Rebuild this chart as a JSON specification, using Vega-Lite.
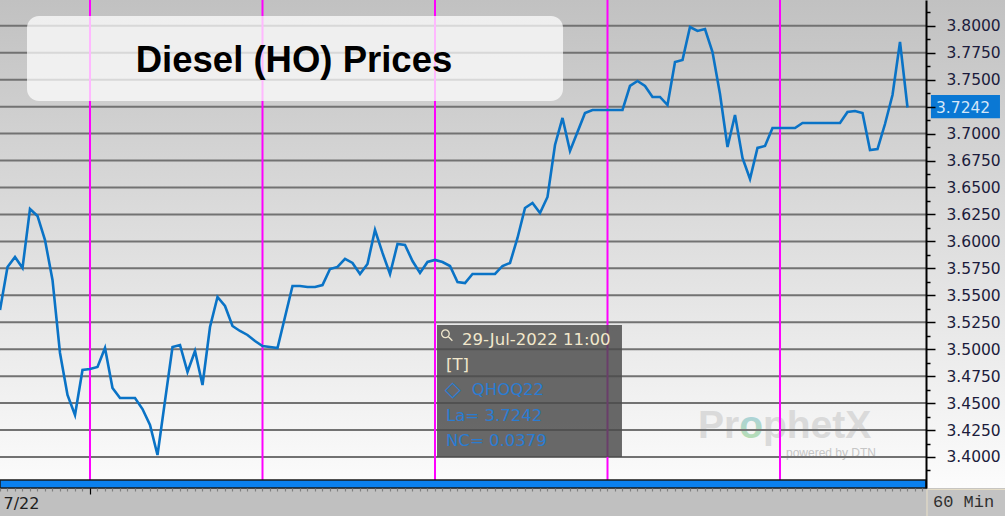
{
  "$schema": "https://vega.github.io/schema/vega-lite/v6.json",
  "width": 926,
  "height": 488,
  "autosize": {"type": "none"},
  "padding": {"left": 0, "top": 0, "right": 79, "bottom": 28},
  "background": "#c0c0c0",
  "config": {"view": {"stroke": null}},
  "layer": [
    {
      "data": {"values": [{}]},
      "mark": {"type": "rect", "clip": false, "fill": {"gradient": "linear", "x1": 0, "y1": 0, "x2": 0, "y2": 1, "stops": [{"offset": 0, "color": "#c1c1c1"}, {"offset": 1, "color": "#fcfcfc"}]}},
      "encoding": {
        "x": {"datum": 0, "type": "quantitative"},
        "x2": {"datum": 134},
        "y": {"datum": 3.371243, "type": "quantitative"},
        "y2": {"datum": 3.823933}
      }
    },
    {
      "data": {"values": [{"t": "Pr", "p": 93.07}, {"t": "phetX", "p": 101.73}]},
      "mark": {"type": "text", "font": "Liberation Sans", "fontWeight": "bold", "fontSize": 39, "fill": "#dadada", "align": "left", "baseline": "alphabetic"},
      "encoding": {
        "x": {"field": "p", "type": "quantitative"},
        "y": {"datum": 3.41763, "type": "quantitative"},
        "text": {"field": "t"}
      }
    },
    {
      "data": {"values": [{"t": "o"}]},
      "mark": {"type": "text", "font": "Liberation Sans", "fontWeight": "bold", "fontSize": 39, "align": "left", "baseline": "alphabetic", "fill": {"gradient": "linear", "x1": 0, "y1": 0, "x2": 0, "y2": 1, "stops": [{"offset": 0, "color": "#a6cdee"}, {"offset": 1, "color": "#b9e0a8"}]}},
      "encoding": {
        "x": {"datum": 98.56, "type": "quantitative"},
        "y": {"datum": 3.41763, "type": "quantitative"},
        "text": {"field": "t"}
      }
    },
    {
      "data": {"values": [{"t": "powered by DTN"}]},
      "mark": {"type": "text", "font": "Liberation Sans", "fontSize": 12, "fill": "#c6c6c6", "align": "left", "baseline": "middle"},
      "encoding": {
        "x": {"datum": 104.8, "type": "quantitative"},
        "y": {"datum": 3.40364, "type": "quantitative"},
        "text": {"field": "t"}
      }
    },
    {
      "data": {"values": [{"g": 3.4}, {"g": 3.425}, {"g": 3.45}, {"g": 3.475}, {"g": 3.5}, {"g": 3.525}, {"g": 3.55}, {"g": 3.575}, {"g": 3.6}, {"g": 3.625}, {"g": 3.65}, {"g": 3.675}, {"g": 3.7}, {"g": 3.725}, {"g": 3.75}, {"g": 3.775}, {"g": 3.8}, {"g": 3.825}]},
      "mark": {"type": "rule", "color": "#727272", "strokeWidth": 2},
      "encoding": {
        "y": {"field": "g", "type": "quantitative"}
      }
    },
    {
      "data": {"values": [{"d": 12}, {"d": 35}, {"d": 58}, {"d": 81}, {"d": 104}]},
      "mark": {"type": "rule", "color": "#ff00ff", "strokeWidth": 2},
      "encoding": {
        "x": {"field": "d", "type": "quantitative"}
      }
    },
    {
      "data": {"values": [{}]},
      "mark": {"type": "rect", "fill": "#ffffff", "fillOpacity": 0.72, "cornerRadius": 12},
      "encoding": {
        "x": {"datum": 3.6, "type": "quantitative"},
        "x2": {"datum": 75.07},
        "y": {"datum": 3.73024, "type": "quantitative"},
        "y2": {"datum": 3.80909}
      }
    },
    {
      "data": {"values": [{"t": "Diesel (HO) Prices"}]},
      "mark": {"type": "text", "font": "Liberation Sans", "fontWeight": "bold", "fontSize": 36.5, "fill": "#000000", "align": "center", "baseline": "alphabetic"},
      "encoding": {
        "x": {"datum": 39.2, "type": "quantitative"},
        "y": {"datum": 3.75714, "type": "quantitative"},
        "text": {"field": "t"}
      }
    },
    {
      "data": {"values": [{}]},
      "mark": {"type": "rect", "fill": "#4a4a4a", "fillOpacity": 0.83},
      "encoding": {
        "x": {"datum": 58.27, "type": "quantitative"},
        "x2": {"datum": 82.93},
        "y": {"datum": 3.4, "type": "quantitative"},
        "y2": {"datum": 3.52245}
      }
    },
    {
      "data": {"values": [{}]},
      "mark": {"type": "point", "shape": "M -0.85 -0.2 A 0.6 0.6 0 1 1 0.35 -0.2 A 0.6 0.6 0 1 1 -0.85 -0.2 M 0.2 0.25 L 0.85 0.9", "filled": false, "stroke": "#efe6cc", "strokeWidth": 1.3, "size": 160, "opacity": 1},
      "encoding": {
        "x": {"datum": 59.6, "type": "quantitative"},
        "y": {"datum": 3.51317, "type": "quantitative"}
      }
    },
    {
      "data": {"values": [{"t": "29-Jul-2022 11:00"}]},
      "mark": {"type": "text", "font": "DejaVu Sans", "fontSize": 16.5, "fill": "#f2e8cc", "align": "left", "baseline": "middle"},
      "encoding": {
        "x": {"datum": 61.6, "type": "quantitative"},
        "y": {"datum": 3.50853, "type": "quantitative"},
        "text": {"field": "t"}
      }
    },
    {
      "data": {"values": [{"t": "[T]"}]},
      "mark": {"type": "text", "font": "DejaVu Sans", "fontSize": 16.5, "fill": "#f2e8cc", "align": "left", "baseline": "middle"},
      "encoding": {
        "x": {"datum": 59.47, "type": "quantitative"},
        "y": {"datum": 3.48534, "type": "quantitative"},
        "text": {"field": "t"}
      }
    },
    {
      "data": {"values": [{"t": "◇"}]},
      "mark": {"type": "text", "font": "DejaVu Sans", "fontSize": 21, "fontWeight": "bold", "fill": "#2a7cd2", "align": "left", "baseline": "middle"},
      "encoding": {
        "x": {"datum": 59.3, "type": "quantitative"},
        "y": {"datum": 3.46215, "type": "quantitative"},
        "text": {"field": "t"}
      }
    },
    {
      "data": {"values": [{"t": "QHOQ22"}]},
      "mark": {"type": "text", "font": "DejaVu Sans", "fontSize": 16.5, "fill": "#2a7cd2", "align": "left", "baseline": "middle"},
      "encoding": {
        "x": {"datum": 62.9, "type": "quantitative"},
        "y": {"datum": 3.46215, "type": "quantitative"},
        "text": {"field": "t"}
      }
    },
    {
      "data": {"values": [{"t": "La= 3.7242"}]},
      "mark": {"type": "text", "font": "DejaVu Sans", "fontSize": 16.5, "fill": "#2a7cd2", "align": "left", "baseline": "middle"},
      "encoding": {
        "x": {"datum": 59.47, "type": "quantitative"},
        "y": {"datum": 3.43803, "type": "quantitative"},
        "text": {"field": "t"}
      }
    },
    {
      "data": {"values": [{"t": "NC= 0.0379"}]},
      "mark": {"type": "text", "font": "DejaVu Sans", "fontSize": 16.5, "fill": "#2a7cd2", "align": "left", "baseline": "middle"},
      "encoding": {
        "x": {"datum": 59.47, "type": "quantitative"},
        "y": {"datum": 3.41484, "type": "quantitative"},
        "text": {"field": "t"}
      }
    },
    {
      "data": {"values": [
        {"i": 0, "v": 3.5364}, {"i": 1, "v": 3.5763}, {"i": 2, "v": 3.5855}, {"i": 3, "v": 3.5753}, {"i": 4, "v": 3.6301},
        {"i": 5, "v": 3.6236}, {"i": 6, "v": 3.6013}, {"i": 7, "v": 3.5642}, {"i": 8, "v": 3.4965}, {"i": 9, "v": 3.4575},
        {"i": 10, "v": 3.4390}, {"i": 11, "v": 3.4807}, {"i": 12, "v": 3.4816}, {"i": 13, "v": 3.4835}, {"i": 14, "v": 3.5011},
        {"i": 15, "v": 3.4640}, {"i": 16, "v": 3.4547}, {"i": 17, "v": 3.4547}, {"i": 18, "v": 3.4547}, {"i": 19, "v": 3.4445},
        {"i": 20, "v": 3.4297}, {"i": 21, "v": 3.4019}, {"i": 22, "v": 3.4520}, {"i": 23, "v": 3.5020}, {"i": 24, "v": 3.5039},
        {"i": 25, "v": 3.4789}, {"i": 26, "v": 3.4983}, {"i": 27, "v": 3.4668}, {"i": 28, "v": 3.5206}, {"i": 29, "v": 3.5484},
        {"i": 30, "v": 3.5401}, {"i": 31, "v": 3.5215}, {"i": 32, "v": 3.5169}, {"i": 33, "v": 3.5132}, {"i": 34, "v": 3.5076},
        {"i": 35, "v": 3.5030}, {"i": 36, "v": 3.5020}, {"i": 37, "v": 3.5011}, {"i": 38, "v": 3.5299}, {"i": 39, "v": 3.5586},
        {"i": 40, "v": 3.5586}, {"i": 41, "v": 3.5577}, {"i": 42, "v": 3.5577}, {"i": 43, "v": 3.5595}, {"i": 44, "v": 3.5744},
        {"i": 45, "v": 3.5763}, {"i": 46, "v": 3.5837}, {"i": 47, "v": 3.5800}, {"i": 48, "v": 3.5698}, {"i": 49, "v": 3.5791},
        {"i": 50, "v": 3.6106}, {"i": 51, "v": 3.5893}, {"i": 52, "v": 3.5698}, {"i": 53, "v": 3.5976}, {"i": 54, "v": 3.5967},
        {"i": 55, "v": 3.5818}, {"i": 56, "v": 3.5707}, {"i": 57, "v": 3.5809}, {"i": 58, "v": 3.5828}, {"i": 59, "v": 3.5809},
        {"i": 60, "v": 3.5772}, {"i": 61, "v": 3.5623}, {"i": 62, "v": 3.5614}, {"i": 63, "v": 3.5698}, {"i": 64, "v": 3.5698},
        {"i": 65, "v": 3.5698}, {"i": 66, "v": 3.5698}, {"i": 67, "v": 3.5772}, {"i": 68, "v": 3.5800}, {"i": 69, "v": 3.6032},
        {"i": 70, "v": 3.6310}, {"i": 71, "v": 3.6356}, {"i": 72, "v": 3.6263}, {"i": 73, "v": 3.6412}, {"i": 74, "v": 3.6894},
        {"i": 75, "v": 3.7145}, {"i": 76, "v": 3.6839}, {"i": 77, "v": 3.7015}, {"i": 78, "v": 3.7191}, {"i": 79, "v": 3.7219},
        {"i": 80, "v": 3.7219}, {"i": 81, "v": 3.7219}, {"i": 82, "v": 3.7219}, {"i": 83, "v": 3.7219}, {"i": 84, "v": 3.7442},
        {"i": 85, "v": 3.7488}, {"i": 86, "v": 3.7442}, {"i": 87, "v": 3.7340}, {"i": 88, "v": 3.7340}, {"i": 89, "v": 3.7265},
        {"i": 90, "v": 3.7664}, {"i": 91, "v": 3.7683}, {"i": 92, "v": 3.7989}, {"i": 93, "v": 3.7952}, {"i": 94, "v": 3.7970},
        {"i": 95, "v": 3.7757}, {"i": 96, "v": 3.7367}, {"i": 97, "v": 3.6876}, {"i": 98, "v": 3.7173}, {"i": 99, "v": 3.6774},
        {"i": 100, "v": 3.6579}, {"i": 101, "v": 3.6867}, {"i": 102, "v": 3.6885}, {"i": 103, "v": 3.7052}, {"i": 104, "v": 3.7052},
        {"i": 105, "v": 3.7052}, {"i": 106, "v": 3.7052}, {"i": 107, "v": 3.7098}, {"i": 108, "v": 3.7098}, {"i": 109, "v": 3.7098},
        {"i": 110, "v": 3.7098}, {"i": 111, "v": 3.7098}, {"i": 112, "v": 3.7098}, {"i": 113, "v": 3.7200}, {"i": 114, "v": 3.7210},
        {"i": 115, "v": 3.7191}, {"i": 116, "v": 3.6848}, {"i": 117, "v": 3.6857}, {"i": 118, "v": 3.7089}, {"i": 119, "v": 3.7358},
        {"i": 120, "v": 3.7850}, {"i": 121, "v": 3.7242}
      ]},
      "mark": {"type": "line", "color": "#0a73c6", "strokeWidth": 2.6},
      "encoding": {
        "x": {
          "field": "i", "type": "quantitative",
          "scale": {"domain": [0, 123.4667], "nice": false, "zero": false},
          "axis": {
            "values": [0,1,2,3,4,5,6,7,8,9,10,11,12,13,14,15,16,17,18,19,20,21,22,23,24,25,26,27,28,29,30,31,32,33,34,35,36,37,38,39,40,41,42,43,44,45,46,47,48,49,50,51,52,53,54,55,56,57,58,59,60,61,62,63,64,65,66,67,68,69,70,71,72,73,74,75,76,77,78,79,80,81,82,83,84,85,86,87,88,89,90,91,92,93,94,95,96,97,98,99,100,101,102,103,104,105,106,107,108,109,110,111,112,113,114,115,116,117,118,119,120,121,122,123],
            "tickCount": 1000,
            "labelExpr": "datum.value == 0 ? '7/22' : ''",
            "labelAlign": "left", "labelOffset": 3, "labelFont": "DejaVu Sans", "labelFontSize": 16, "labelColor": "#202020",
            "labelPadding": 4, "labelOverlap": false, "labelFlush": false, "labelBound": false,
            "tickSize": {"condition": {"test": "datum.value == 12", "value": 6}, "value": 3},
            "tickColor": {"condition": {"test": "datum.value == 12", "value": "#000000"}, "value": "#808080"},
            "tickWidth": 1.2, "domain": false, "grid": false, "title": null, "zindex": 1
          }
        },
        "y": {
          "field": "v", "type": "quantitative",
          "scale": {"domain": [3.371243, 3.823933], "nice": false, "zero": false},
          "axis": {
            "orient": "right",
            "values": [3.3875, 3.4, 3.4125, 3.425, 3.4375, 3.45, 3.4625, 3.475, 3.4875, 3.5, 3.5125, 3.525, 3.5375, 3.55, 3.5625, 3.575, 3.5875, 3.6, 3.6125, 3.625, 3.6375, 3.65, 3.6625, 3.675, 3.6875, 3.7, 3.7125, 3.725, 3.7375, 3.75, 3.7625, 3.775, 3.7875, 3.8, 3.8125],
            "tickCount": 1000,
            "labelExpr": "(round(datum.value*1000) % 25 == 0 && round(datum.value*1000) != 3725) ? format(datum.value, '.4f') : ''",
            "tickSize": {"condition": {"test": "round(datum.value*1000) % 25 == 0", "value": 9}, "value": 4},
            "tickColor": "#000000", "tickWidth": 1.5,
            "domain": true, "domainColor": "#000000", "domainWidth": 2,
            "labelFont": "DejaVu Sans", "labelFontSize": 15.5, "labelColor": "#1c1c3c", "labelPadding": 11,
            "labelOverlap": false, "labelFlush": false, "labelBound": false,
            "grid": false, "title": null, "zindex": 1
          }
        }
      }
    },
    {
      "data": {"values": [{}]},
      "mark": {"type": "rect", "fill": "#0a80ee", "stroke": "#1a1a1a", "strokeWidth": 1.5},
      "encoding": {
        "x": {"datum": 0, "type": "quantitative"},
        "x2": {"datum": 123.4667},
        "y": {"datum": 3.371243, "type": "quantitative"},
        "y2": {"datum": 3.37866}
      }
    },
    {
      "data": {"values": [{}]},
      "mark": {"type": "rect", "fill": "#0a78d4", "clip": false},
      "encoding": {
        "x": {"datum": 124.13, "type": "quantitative"},
        "x2": {"datum": 133.33},
        "y": {"datum": 3.71419, "type": "quantitative"},
        "y2": {"datum": 3.73581}
      }
    },
    {
      "data": {"values": [{"t": "3.7242"}]},
      "mark": {"type": "text", "font": "DejaVu Sans", "fontSize": 15.5, "fill": "#d4e6f8", "align": "left", "baseline": "middle", "clip": false},
      "encoding": {
        "x": {"datum": 124.8, "type": "quantitative"},
        "y": {"datum": 3.7242, "type": "quantitative"},
        "text": {"field": "t"}
      }
    },
    {
      "data": {"values": [{}]},
      "mark": {"type": "rect", "fill": "#c3c3c3", "stroke": "#ebe1c8", "strokeWidth": 1, "clip": false},
      "encoding": {
        "x": {"datum": 123.6, "type": "quantitative"},
        "x2": {"datum": 134.2},
        "y": {"datum": 3.343, "type": "quantitative"},
        "y2": {"datum": 3.370}
      }
    },
    {
      "data": {"values": [{"t": "60 Min"}]},
      "mark": {"type": "text", "font": "Liberation Mono", "fontSize": 17, "fill": "#303030", "align": "left", "baseline": "middle", "clip": false},
      "encoding": {
        "x": {"datum": 124.4, "type": "quantitative"},
        "y": {"datum": 3.358256, "type": "quantitative"},
        "text": {"field": "t"}
      }
    }
  ]
}
